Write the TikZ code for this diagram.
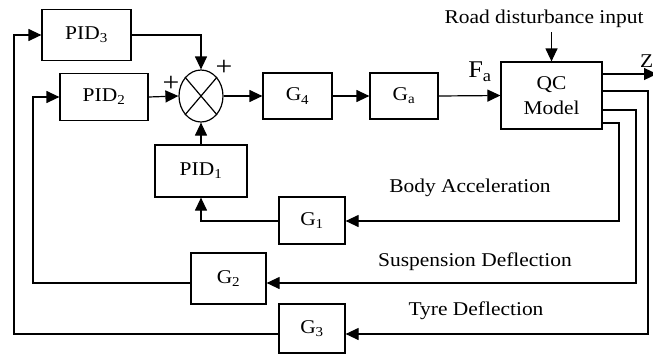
\documentclass[tikz,border=0pt]{standalone}
\usepackage{fontspec}
\setmainfont[FakeStretch=1.1]{Liberation Serif}
\usetikzlibrary{arrows.meta,shapes.geometric}
\newcommand{\lblfont}{\fontsize{19.5}{25}\selectfont}
\newcommand{\plusfont}{\fontsize{27}{30}\selectfont}
\newcommand{\fafont}{\fontsize{24}{28}\selectfont}
\begin{document}
\begin{tikzpicture}[x=1pt,y=-1pt,
  blk/.style={draw, line width=1.2pt, inner sep=0pt, font=\lblfont},
  conn/.style={line width=1.2pt},
  arr/.style={conn, -{Triangle[length=13pt,width=12pt]}},
  lbl/.style={font=\lblfont, inner sep=0pt},
  plussign/.style={font=\plusfont, inner sep=0pt}]
\useasboundingbox (0,0) rectangle (653,354);
% blocks
\node[blk, minimum width=89pt, minimum height=51pt] (pid3) at (86.5,35) {PID\textsubscript{3}};
\node[blk, minimum width=88pt, minimum height=47pt] (pid2) at (104,97) {PID\textsubscript{2}};
\node[draw, line width=1.2pt, ellipse, minimum width=44pt, minimum height=52pt, inner sep=0pt] (sum) at (201,96) {};
\draw[conn] (sum.north east) -- (sum.south west) (sum.north west) -- (sum.south east);
\node[blk, minimum width=92pt, minimum height=52pt] (pid1) at (201,171) {PID\textsubscript{1}};
\node[blk, minimum width=69pt, minimum height=46pt] (g4) at (297.5,96) {G\textsubscript{4}};
\node[blk, minimum width=68pt, minimum height=46pt] (ga) at (404,96) {G\textsubscript{a}};
\node[blk, minimum width=101pt, minimum height=67pt, align=center] (qc) at (551.5,95.5) {QC\\Model};
\node[blk, minimum width=66pt, minimum height=47pt] (g1) at (312,220.5) {G\textsubscript{1}};
\node[blk, minimum width=75pt, minimum height=51pt] (g2) at (228.5,278.5) {G\textsubscript{2}};
\node[blk, minimum width=66pt, minimum height=49pt] (g3) at (312,328.5) {G\textsubscript{3}};
% labels
\node[lbl] (road) at (544,19) {Road disturbance input};
\node[lbl, font=\fafont] (fa) at (480,72) {F\textsubscript{a}};
\node[lbl, anchor=east] (z) at (653.5,61) {Z};
\node[plussign] (plus1) at (224,68) {+};
\node[plussign] (plus2) at (171,84) {+};
\node[lbl] (ba) at (470,188) {Body Acceleration};
\node[lbl] (sd) at (475,262) {Suspension Deflection};
\node[lbl] (td) at (476,311) {Tyre Deflection};
% coordinates
\coordinate (rdtop) at (551.5,32);
\coordinate (zend) at (657,74);
% forward path
\draw[arr] (rdtop) -- (qc.north);
\draw[arr] (pid3.east) -- (sum.north |- pid3.east) -- (sum.north);
\draw[arr] (pid2.east) -- (sum.west);
\draw[arr] (pid1.north) -- (sum.south);
\draw[arr] (sum.east) -- (g4.west);
\draw[arr] (g4.east) -- (ga.west);
\draw[arr] (ga.east) -- (qc.west);
\draw[arr] (qc.east |- 0,74) -- (zend);
% feedback
\draw[arr] (qc.east |- 0,123) -- (619,123) -- (619,221) -- (g1.east |- 0,221);
\draw[arr] (g1.west |- 0,221) -- (pid1.south |- 0,221) -- (pid1.south);
\draw[arr] (qc.east |- 0,110) -- (636,110) -- (636,283) -- (g2.east |- 0,283);
\draw[arr] (g2.west |- 0,283) -- (33,283) -- (33,97) -- (pid2.west);
\draw[arr] (qc.east |- 0,91) -- (648,91) -- (648,334) -- (g3.east |- 0,334);
\draw[arr] (g3.west |- 0,334) -- (14,334) -- (14,35) -- (pid3.west);
\end{tikzpicture}
\end{document}
